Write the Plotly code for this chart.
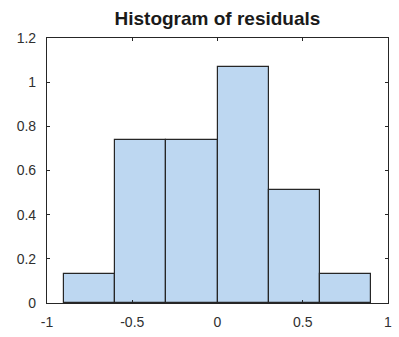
import plotly.graph_objects as go

bin_edges = [-0.9, -0.6, -0.3, 0.0, 0.3, 0.6, 0.9]
density = [0.133, 0.74, 0.74, 1.067, 0.51, 0.133]
x_ticks = [-1, -0.5, 0, 0.5, 1]
x_tick_labels = ["-1", "-0.5", "0", "0.5", "1"]
y_ticks = [0, 0.2, 0.4, 0.6, 0.8, 1, 1.2]
y_tick_labels = ["0", "0.2", "0.4", "0.6", "0.8", "1", "1.2"]

centers = [(a + b) / 2 for a, b in zip(bin_edges[:-1], bin_edges[1:])]
widths = [b - a for a, b in zip(bin_edges[:-1], bin_edges[1:])]

fig = go.Figure(go.Bar(
    x=centers, y=density, width=widths,
    marker=dict(color="#bdd7f1", line=dict(color="#262626", width=1.2)),
))

axis_common = dict(
    showline=True, linecolor="#262626", linewidth=1.2, mirror="ticks",
    ticks="inside", ticklen=3, tickcolor="#262626", tickwidth=1,
    showgrid=False, zeroline=False, ticklabeloverflow="allow",
    tickfont=dict(family="Liberation Sans, Arial, sans-serif", size=14, color="#303030"),
)

fig.update_layout(
    width=399, height=337,
    margin=dict(l=47, r=7, t=38, b=34),
    paper_bgcolor="white", plot_bgcolor="white",
    showlegend=False,
    bargap=0,
    title=dict(text="<b>Histogram of residuals</b>", x=0.545, xanchor="center",
               y=0.945, yanchor="middle",
               font=dict(family="Liberation Sans, Arial, sans-serif", size=19, color="#1a1a1a")),
    xaxis=dict(range=[-1, 1], tickvals=x_ticks, ticktext=x_tick_labels,
               ticklabelstandoff=6, **axis_common),
    yaxis=dict(range=[0, 1.2], tickvals=y_ticks, ticktext=y_tick_labels,
               ticklabelstandoff=7, **axis_common),
)

fig.write_html("out.html", config={"displayModeBar": False},
               post_script="document.body.style.margin='0';")
